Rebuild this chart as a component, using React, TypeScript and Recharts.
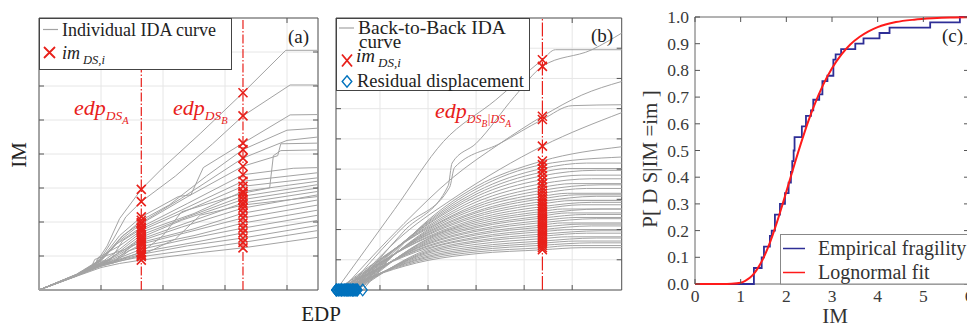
import React from 'react';
import {
  ComposedChart,
  Line,
  Scatter,
  XAxis,
  YAxis,
  CartesianGrid,
  ReferenceLine,
  ReferenceArea,
} from 'recharts';

const SERIF = '"Liberation Serif", "Times New Roman", serif';
const FRAME = '#555';
const GRID = '#e6e6e6';
const CURVE = '#a3a3a3';
const RED = '#e8201a';
const BLUE = '#0072bd';
const NAVY = '#2e2e96';
const TEXT = '#222';

// (a) individual IDA curves, points are [EDP, IM]
const EDP_A = 1.65;
const EDP_B = 3.29;
const idaCurves: number[][][] = [
  [[0, 0], [0.6, 0.45], [0.9, 0.75], [1.1, 1.3], [1.3, 2.1], [1.65, 2.96], [2.0, 3.6], [2.6, 4.6], [3.29, 5.8], [3.98, 7.05], [4.5, 7.05]],
  [[0, 0], [0.6, 0.45], [0.95, 0.8], [1.2, 1.5], [1.4, 2.15], [1.65, 2.6], [2.2, 3.35], [2.8, 4.3], [3.29, 5.12], [4.05, 6.03], [4.5, 6.03]],
  [[0, 0], [0.6, 0.44], [1.0, 0.9], [1.3, 1.6], [1.65, 2.15], [2.25, 2.75], [2.45, 2.8], [2.55, 3.2], [2.65, 3.6], [3.29, 4.32], [4.05, 5.15], [4.5, 5.16]],
  [[0, 0], [0.6, 0.44], [1.0, 0.88], [1.3, 1.5], [1.65, 2.05], [2.1, 2.5], [2.7, 3.35], [3.29, 4.13], [4.0, 4.7], [4.5, 4.76]],
  [[0, 0], [0.65, 0.48], [1.05, 0.95], [1.35, 1.6], [1.65, 1.98], [2.3, 2.7], [3.29, 3.88], [4.0, 4.4], [4.5, 4.5]],
  [[0, 0], [0.6, 0.45], [1.0, 0.86], [1.3, 1.45], [1.65, 1.95], [2.4, 2.75], [3.29, 3.64], [3.85, 3.95], [3.9, 4.3], [4.5, 4.32]],
  [[0, 0], [0.6, 0.46], [0.95, 0.85], [1.25, 1.35], [1.65, 1.85], [2.4, 2.55], [3.29, 3.39], [4.1, 3.58], [4.5, 3.6]],
  [[0, 0], [0.6, 0.44], [1.0, 0.85], [1.15, 0.88], [1.35, 1.45], [1.65, 1.8], [2.3, 2.35], [3.29, 3.2], [4.5, 3.45]],
  [[0, 0], [0.6, 0.45], [0.9, 0.72], [0.95, 0.95], [1.3, 1.3], [1.65, 1.75], [2.4, 2.35], [3.29, 3.05], [4.5, 3.3]],
  [[0, 0], [0.6, 0.43], [1.0, 0.8], [1.3, 1.2], [1.65, 1.7], [2.5, 2.25], [3.29, 2.9], [4.5, 3.2]],
  [[0, 0], [0.6, 0.44], [1.0, 0.82], [1.1, 0.84], [1.45, 1.35], [1.65, 1.62], [2.4, 2.15], [3.29, 2.76], [4.5, 3.1]],
  [[0, 0], [0.6, 0.42], [1.0, 0.78], [1.35, 1.15], [1.65, 1.55], [2.3, 2.05], [3.29, 2.66], [4.5, 3.0]],
  [[0, 0], [0.6, 0.43], [0.85, 0.7], [0.9, 0.9], [1.4, 1.2], [1.65, 1.5], [2.5, 2.05], [3.29, 2.56], [4.5, 2.9]],
  [[0, 0], [0.6, 0.42], [1.0, 0.78], [1.3, 1.05], [1.65, 1.45], [2.3, 1.85], [3.29, 2.41], [4.5, 2.8]],
  [[0, 0], [0.6, 0.43], [1.0, 0.8], [1.2, 0.82], [1.5, 1.3], [1.65, 1.4], [2.5, 1.8], [3.29, 2.26], [4.5, 2.65]],
  [[0, 0], [0.6, 0.41], [1.0, 0.75], [1.3, 1.0], [1.65, 1.35], [2.4, 1.7], [3.29, 2.12], [4.5, 2.5]],
  [[0, 0], [0.6, 0.42], [1.0, 0.76], [1.2, 0.8], [1.45, 1.15], [1.65, 1.28], [2.5, 1.6], [3.29, 1.97], [4.5, 2.35]],
  [[0, 0], [0.6, 0.41], [1.0, 0.74], [1.3, 0.95], [1.65, 1.2], [2.4, 1.5], [3.29, 1.82], [4.5, 2.2]],
  [[0, 0], [0.6, 0.42], [1.0, 0.73], [1.25, 0.85], [1.65, 1.12], [2.5, 1.4], [3.29, 1.68], [4.5, 2.05]],
  [[0, 0], [0.6, 0.41], [1.0, 0.72], [1.3, 0.88], [1.65, 1.05], [2.4, 1.3], [3.29, 1.53], [4.5, 1.9]],
  [[0, 0], [0.6, 0.41], [1.0, 0.7], [1.3, 0.85], [1.65, 0.98], [2.6, 1.22], [3.29, 1.4], [4.5, 1.75]],
  [[0, 0], [0.6, 0.4], [1.0, 0.66], [1.3, 0.78], [1.65, 0.88], [2.6, 1.1], [3.29, 1.24], [4.5, 1.55]],
  [[0, 0], [0.6, 0.42], [1.0, 0.7], [1.65, 1.02], [2.2, 1.5], [2.6, 2.2], [3.29, 2.5], [4.5, 2.75]],
  [[0, 0], [0.6, 0.43], [1.0, 0.75], [1.65, 1.1], [2.0, 1.6], [2.3, 2.3], [3.29, 2.85], [3.72, 3.0], [3.78, 3.95], [3.9, 4.1], [4.5, 4.12]],
];

// (b) back-to-back IDA curves, first point sits on the residual displacement
const EDP_BA = 3.38;
const b2bCurves: number[][][] = [
  [[-0.91, 0], [0.3, 2.66], [1.32, 4.91], [2.41, 6.29], [3.38, 7.62], [3.65, 7.95], [5.03, 7.95]],
  [[-0.55, 0], [0.5, 1.95], [1.42, 3.45], [1.5, 4.2], [2.0, 4.85], [2.8, 6.4], [3.38, 7.4], [4.41, 7.95], [5.03, 8.5]],
  [[-0.8, 0], [0.5, 2.2], [1.5, 3.7], [2.5, 4.85], [3.38, 5.75], [4.2, 6.45], [5.03, 6.9]],
  [[-0.7, 0], [0.5, 2.1], [1.45, 3.4], [1.55, 4.05], [2.5, 4.85], [3.38, 5.64], [4.0, 6.1], [5.03, 6.13]],
  [[-0.65, 0], [0.5, 1.85], [1.5, 3.0], [2.5, 4.0], [3.38, 4.76], [5.03, 5.87]],
  [[-0.91, 0], [1, 0.98], [2, 1.2], [3.38, 1.33], [4.2, 1.4], [5.03, 1.4]],
  [[-0.86, 0], [1, 1.03], [2, 1.26], [3.38, 1.4], [4.0, 1.47], [5.03, 1.47]],
  [[-0.8, 0], [1, 1.08], [2, 1.32], [3.38, 1.48], [4.4, 1.56], [5.03, 1.56]],
  [[-0.74, 0], [1, 1.12], [2, 1.38], [3.38, 1.55], [4.1, 1.62], [5.03, 1.62]],
  [[-0.68, 0], [1, 1.17], [2, 1.44], [3.38, 1.62], [4.5, 1.72], [5.03, 1.72]],
  [[-0.62, 0], [1, 1.22], [2, 1.51], [3.38, 1.7], [3.9, 1.76], [5.03, 1.76]],
  [[-0.57, 0], [1, 1.26], [2, 1.58], [3.38, 1.78], [4.3, 1.88], [5.03, 1.88]],
  [[-0.52, 0], [1, 1.3], [2, 1.63], [3.38, 1.85], [4.6, 1.96], [5.03, 1.96]],
  [[-0.47, 0], [1, 1.35], [2, 1.7], [3.38, 1.93], [4.0, 2.0], [5.03, 2.0]],
  [[-0.91, 0], [1, 1.39], [2, 1.75], [3.38, 2.0], [4.4, 2.12], [5.03, 2.12]],
  [[-0.86, 0], [1, 1.44], [2, 1.82], [3.38, 2.08], [4.2, 2.18], [5.03, 2.18]],
  [[-0.8, 0], [1, 1.47], [2, 1.87], [3.38, 2.15], [3.8, 2.22], [5.03, 2.22]],
  [[-0.74, 0], [1, 1.52], [2, 1.94], [3.38, 2.23], [4.5, 2.36], [5.03, 2.36]],
  [[-0.68, 0], [1, 1.55], [2, 1.99], [3.38, 2.3], [4.1, 2.4], [5.03, 2.4]],
  [[-0.62, 0], [1, 1.59], [2, 2.06], [3.38, 2.38], [4.3, 2.5], [5.03, 2.5]],
  [[-0.57, 0], [1, 1.63], [2, 2.11], [3.38, 2.45], [3.9, 2.55], [5.03, 2.55]],
  [[-0.52, 0], [1, 1.67], [2, 2.17], [3.38, 2.53], [4.6, 2.68], [5.03, 2.68]],
  [[-0.47, 0], [1, 1.7], [2, 2.23], [3.38, 2.6], [3.8, 2.68], [5.03, 2.68]],
  [[-0.91, 0], [1, 1.74], [2, 2.29], [3.38, 2.68], [4.2, 2.82], [5.03, 2.82]],
  [[-0.84, 0], [1, 1.77], [2, 2.35], [3.38, 2.76], [4.4, 2.9], [5.03, 2.9]],
  [[-0.78, 0], [1, 1.82], [2, 2.42], [3.38, 2.85], [4.0, 2.96], [5.03, 2.96]],
  [[-0.72, 0], [1, 1.85], [2, 2.48], [3.38, 2.93], [4.5, 3.1], [5.03, 3.1]],
  [[-0.66, 0], [1, 1.89], [2, 2.55], [3.38, 3.02], [4.1, 3.15], [5.03, 3.15]],
  [[-0.6, 0], [1, 1.92], [2, 2.6], [3.38, 3.1], [3.9, 3.2], [5.03, 3.2]],
  [[-0.55, 0], [1, 1.96], [2, 2.68], [3.38, 3.2], [4.3, 3.36], [5.03, 3.36]],
  [[-0.5, 0], [1, 2.0], [2, 2.75], [3.38, 3.3], [4.6, 3.48], [5.03, 3.48]],
  [[-0.89, 0], [1, 2.04], [2, 2.82], [3.38, 3.4], [4.0, 3.52], [5.03, 3.52]],
  [[-0.82, 0], [1, 2.08], [2, 2.91], [3.38, 3.52], [4.4, 3.68], [5.03, 3.68]],
  [[-0.76, 0], [1, 2.12], [2, 3.0], [3.38, 3.65], [4.2, 3.8], [5.03, 3.8]],
  [[-0.7, 0], [1, 2.17], [2, 3.09], [3.38, 3.78], [4.5, 3.96], [5.03, 3.96]],
  [[-0.64, 0], [1, 2.2], [2, 3.17], [3.38, 3.9], [3.9, 4.02], [5.03, 4.02]],
  [[-0.58, 0], [1, 2.24], [2, 3.25], [3.38, 4.02], [4.3, 4.2], [5.03, 4.2]],
  [[-0.49, 0], [1, 2.27], [2, 3.34], [3.38, 4.15], [5.03, 4.4]],
  [[-0.36, 0], [1, 2.31], [2, 3.42], [3.38, 4.27], [5.03, 4.74]],
];

// (c) fragility, [IM, probability]
const empirical: number[][] = [
  [0, 0], [1.29, 0.06], [1.46, 0.1], [1.51, 0.14], [1.64, 0.18], [1.68, 0.2], [1.75, 0.26], [1.86, 0.3],
  [1.97, 0.34], [2.05, 0.38], [2.1, 0.42], [2.13, 0.46], [2.16, 0.5], [2.18, 0.55], [2.34, 0.59], [2.43, 0.63],
  [2.54, 0.65], [2.59, 0.69], [2.72, 0.71], [2.79, 0.76], [2.9, 0.78], [3.03, 0.84], [3.08, 0.86], [3.2, 0.88],
  [3.51, 0.9], [3.69, 0.92], [4.04, 0.94], [4.26, 0.96], [5.15, 0.98], [5.8, 1.0], [6.0, 1.0],
];
const lognormal: number[][] = [
  [0, 0], [0.6, 0], [0.8, 0.001], [1.0, 0.005], [1.1, 0.012], [1.2, 0.023], [1.3, 0.041], [1.4, 0.066],
  [1.5, 0.098], [1.6, 0.137], [1.7, 0.183], [1.8, 0.234], [1.9, 0.289], [2.0, 0.346], [2.2, 0.461],
  [2.4, 0.569], [2.6, 0.664], [2.8, 0.744], [3.0, 0.808], [3.2, 0.858], [3.4, 0.897], [3.6, 0.925],
  [3.8, 0.946], [4.0, 0.962], [4.4, 0.981], [4.8, 0.99], [5.2, 0.995], [5.6, 0.998], [6.0, 0.999],
];
const probTicks = [0, 0.1, 0.2, 0.3, 0.4, 0.5, 0.6, 0.7, 0.8, 0.9, 1.0];
const imTicks = [0, 1, 2, 3, 4, 5, 6];

const pts = (c: number[][]) => c.map(([x, y]) => ({ x, y }));
const pickAt = (curves: number[][][], edp: number) =>
  curves
    .map((c) => c.find((p) => p[0] === edp))
    .filter((p): p is number[] => !!p)
    .map(([x, y]) => ({ x, y }));

const crossesA = [...pickAt(idaCurves, EDP_A), ...pickAt(idaCurves, EDP_B)];
const crossesB = pickAt(b2bCurves, EDP_BA);
const residuals = b2bCurves.map((c) => ({ x: c[0][0], y: c[0][1] }));

const crossPath = (cx: number, cy: number, rx: number, ry: number) =>
  `M${cx - rx},${cy - ry}L${cx + rx},${cy + ry}M${cx - rx},${cy + ry}L${cx + rx},${cy - ry}`;
const diamondPath = (cx: number, cy: number, rx: number, ry: number) =>
  `M${cx},${cy - ry}L${cx + rx},${cy}L${cx},${cy + ry}L${cx - rx},${cy}Z`;

const CrossMark = (p: any) => (
  <path d={crossPath(p.cx, p.cy, 4.5, 4.5)} stroke={RED} strokeWidth={1.6} fill="none" />
);
const DiamondMark = (p: any) => (
  <path d={diamondPath(p.cx, p.cy, 4.5, 5.8)} stroke={BLUE} strokeWidth={1.3} fill="none" />
);

// inward tick marks on bottom and top frame
const xFrameTick = (top: number, withLabel = false) => (p: any) => (
  <g>
    <line x1={p.x} y1={p.y} x2={p.x} y2={p.y - 5} stroke={FRAME} />
    <line x1={p.x} y1={top} x2={p.x} y2={top + 5} stroke={FRAME} />
    {withLabel && (
      <text x={p.x} y={p.y + 17.5} textAnchor="middle" fontSize={17.5} fontFamily={SERIF} fill="#3a3a3a">
        {p.payload.value}
      </text>
    )}
  </g>
);
// inward tick marks on left and right frame
const yFrameTick = (right: number, withLabel = false) => (p: any) => (
  <g>
    <line x1={p.x} y1={p.y} x2={p.x + 5} y2={p.y} stroke={FRAME} />
    <line x1={right - 5} y1={p.y} x2={right} y2={p.y} stroke={FRAME} />
    {withLabel && (
      <text x={p.x - 6} y={p.y + 6} textAnchor="end" fontSize={17.5} fontFamily={SERIF} fill="#3a3a3a">
        {p.payload.value.toFixed(1)}
      </text>
    )}
  </g>
);

function PanelA() {
  return (
    <ComposedChart width={330} height={300} margin={{ top: 18, right: 12, bottom: 9, left: 38 }}>
      <CartesianGrid stroke={GRID} />
      <XAxis type="number" dataKey="x" domain={[0, 4.5]} ticks={[1, 2, 3, 4]} interval={0} height={1}
        axisLine={false} tickLine={false} tickSize={0} tickMargin={0} tick={xFrameTick(18)} />
      <YAxis type="number" dataKey="y" domain={[0, 8]} ticks={[1, 2, 3, 4, 5, 6, 7]} interval={0} width={1}
        axisLine={false} tickLine={false} tickSize={0} tickMargin={0} tick={yFrameTick(318)} />
      <ReferenceLine x={EDP_A} stroke={RED} strokeWidth={1.2} strokeDasharray="9 2 1.5 2" />
      <ReferenceLine x={EDP_B} stroke={RED} strokeWidth={1.2} strokeDasharray="9 2 1.5 2" />
      {idaCurves.map((c, i) => (
        <Line key={i} data={pts(c)} dataKey="y" type="linear" stroke={CURVE} strokeWidth={1}
          dot={false} activeDot={false} isAnimationActive={false} />
      ))}
      <Scatter data={crossesA} shape={CrossMark} isAnimationActive={false} />
      <ReferenceArea x1={0} x2={4.5} y1={0} y2={8} fill="none" stroke={FRAME} />
    </ComposedChart>
  );
}

function PanelB() {
  return (
    <ComposedChart width={300} height={300} margin={{ top: 18, right: 8.3, bottom: 9, left: 5 }}>
      <CartesianGrid stroke={GRID} />
      <XAxis type="number" dataKey="x" domain={[-0.915, 5.03]} ticks={[0, 1, 2, 3, 4]} interval={0} height={1}
        axisLine={false} tickLine={false} tickSize={0} tickMargin={0} tick={xFrameTick(18)} />
      <YAxis type="number" dataKey="y" domain={[0, 9]} ticks={[1, 2, 3, 4, 5, 6, 7, 8]} interval={0} width={1}
        axisLine={false} tickLine={false} tickSize={0} tickMargin={0} tick={yFrameTick(291.7)} />
      <ReferenceLine x={EDP_BA} stroke={RED} strokeWidth={1.2} strokeDasharray="14 2 1.5 2" />
      {b2bCurves.map((c, i) => (
        <Line key={i} data={pts(c)} dataKey="y" type="monotone" stroke={CURVE} strokeWidth={1}
          dot={false} activeDot={false} isAnimationActive={false} />
      ))}
      <Scatter data={crossesB} shape={CrossMark} isAnimationActive={false} />
      <ReferenceArea x1={-0.915} x2={5.03} y1={0} y2={9} fill="none" stroke={FRAME} />
      <Scatter data={residuals} shape={DiamondMark} isAnimationActive={false} />
    </ComposedChart>
  );
}

function PanelC() {
  return (
    <ComposedChart width={345} height={325} margin={{ top: 17, right: 6, bottom: 40, left: 64 }}>
      <XAxis type="number" dataKey="x" domain={[0, 6]} ticks={imTicks} interval={0} height={1}
        axisLine={false} tickLine={false} tickSize={0} tickMargin={0} tick={xFrameTick(17, true)} />
      <YAxis type="number" dataKey="y" domain={[0, 1]} ticks={probTicks} interval={0} width={1}
        axisLine={false} tickLine={false} tickSize={0} tickMargin={0} tick={yFrameTick(339, true)} />
      <Line data={pts(empirical)} dataKey="y" type="stepAfter" stroke={NAVY} strokeWidth={1.8}
        dot={false} activeDot={false} isAnimationActive={false} />
      <Line data={pts(lognormal)} dataKey="y" type="monotone" stroke="#ff1a1a" strokeWidth={2}
        dot={false} activeDot={false} isAnimationActive={false} />
      <ReferenceArea x1={0} x2={6} y1={0} y2={1} fill="none" stroke="#666" />
    </ComposedChart>
  );
}

function Sub({ children, size, dy }: { children: React.ReactNode; size: number; dy: number }) {
  return (
    <tspan fontSize={size} dy={dy}>
      {children}
    </tspan>
  );
}

function Overlay() {
  return (
    <svg width={967} height={325} style={{ position: 'absolute', left: 0, top: 0, pointerEvents: 'none' }}
      fontFamily={SERIF}>
      {/* legend (a) */}
      <rect x={39.5} y={18.5} width={192} height={51} fill="#fff" stroke="#444" />
      <line x1={43} x2={58} y1={29.5} y2={29.5} stroke={CURVE} strokeWidth={1.2} />
      <text x={62} y={36} fontSize={18} fill={TEXT}>Individual IDA curve</text>
      <path d={crossPath(49.5, 52.5, 5.5, 5.5)} stroke={RED} strokeWidth={1.8} fill="none" />
      <text x={62} y={59} fontSize={18} fontStyle="italic" fill={TEXT}>
        im<tspan fontSize={12.5} dx={3} dy={5}>DS,i</tspan>
      </text>
      <text x={288} y={43} fontSize={19} fill={TEXT}>(a)</text>

      {/* legend (b) */}
      <rect x={336.5} y={18.5} width={193} height={72} fill="#fff" stroke="#444" />
      <line x1={339} x2={354} y1={28} y2={28} stroke={CURVE} strokeWidth={1.2} />
      <text x={358} y={34} fontSize={19.5} fill={TEXT}>Back-to-Back IDA</text>
      <text x={359} y={48} fontSize={19} fill={TEXT}>curve</text>
      <path d={crossPath(347, 60.5, 5, 6)} stroke={RED} strokeWidth={1.8} fill="none" />
      <text x={356} y={62} fontSize={19} fontStyle="italic" fill={TEXT}>
        im<tspan fontSize={13} dx={3} dy={5}>DS,i</tspan>
      </text>
      <path d={diamondPath(347, 81.5, 4.8, 5.7)} stroke={BLUE} strokeWidth={1.4} fill="none" />
      <text x={357} y={87} fontSize={18.5} fill={TEXT}>Residual displacement</text>
      <text x={591} y={42} fontSize={19} fill={TEXT}>(b)</text>

      {/* annotations */}
      <text x={74} y={115} fontSize={22} fontStyle="italic" fill={RED}>
        edp<Sub size={13.5} dy={5}>DS</Sub><Sub size={10.5} dy={4}>A</Sub>
      </text>
      <text x={173} y={115} fontSize={22} fontStyle="italic" fill={RED}>
        edp<Sub size={13.5} dy={5}>DS</Sub><Sub size={10.5} dy={4}>B</Sub>
      </text>
      <text x={435} y={118} fontSize={22} fontStyle="italic" fill={RED}>
        edp<Sub size={12} dy={5}>DS</Sub><Sub size={9.5} dy={4}>B</Sub><Sub size={12} dy={-4}>|DS</Sub>
        <Sub size={9.5} dy={4}>A</Sub>
      </text>

      {/* axis titles */}
      <text transform="translate(26,155) rotate(-90)" textAnchor="middle" fontSize={21} fill={TEXT}>IM</text>
      <text x={321} y={321} textAnchor="middle" fontSize={21} fill={TEXT}>EDP</text>
      <text transform="translate(657,159) rotate(-90)" textAnchor="middle" fontSize={21} fill="#333">
        P[ D S|IM =im ]
      </text>
      <text x={835} y={322.5} textAnchor="middle" fontSize={21} fill="#333">IM</text>

      {/* legend (c) */}
      <rect x={780.5} y={234.5} width={200} height={49.5} fill="#fff" stroke="#888" />
      <line x1={783} x2={805} y1={248.5} y2={248.5} stroke={NAVY} strokeWidth={1.5} />
      <text x={818} y={255} fontSize={20} fill="#333">Empirical fragility</text>
      <line x1={783} x2={805} y1={272.5} y2={272.5} stroke="#ff1a1a" strokeWidth={1.5} />
      <text x={818} y={278.5} fontSize={20} fill="#333">Lognormal fit</text>
      <text x={942} y={42} fontSize={19} fill={TEXT}>(c)</text>
    </svg>
  );
}

export default function App() {
  return (
    <div style={{ position: 'absolute', left: 0, top: 0, width: 967, height: 325, overflow: 'hidden', background: '#fff' }}>
      <div style={{ position: 'absolute', left: 0, top: 0 }}>
        <PanelA />
      </div>
      <div style={{ position: 'absolute', left: 330, top: 0 }}>
        <PanelB />
      </div>
      <div style={{ position: 'absolute', left: 630, top: 0 }}>
        <PanelC />
      </div>
      <Overlay />
    </div>
  );
}
